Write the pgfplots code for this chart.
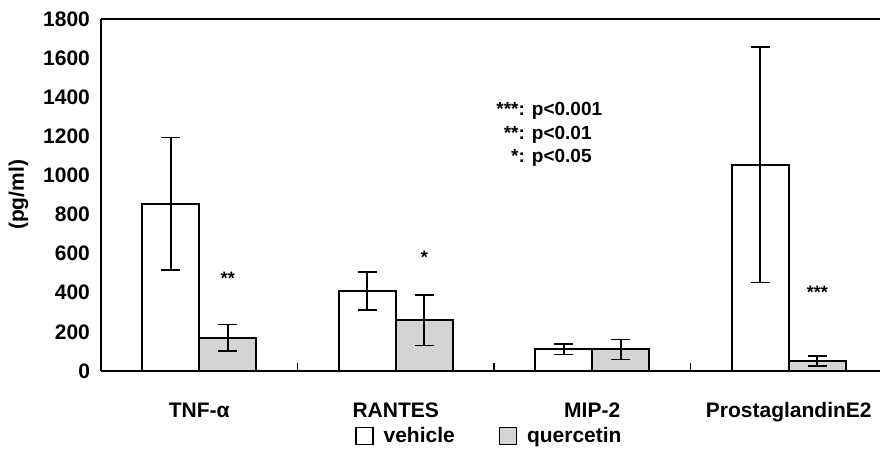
\documentclass[border=0pt]{standalone}
\usepackage{pgfplots}
\pgfplotsset{compat=1.18}
\usepackage{fontspec}
\setmainfont{Liberation Sans}
\definecolor{qgray}{RGB}{211,212,214}
\begin{document}
\begin{tikzpicture}
\path[use as bounding box] (-50pt,-43.5pt) rectangle (390pt,185.5pt);
\begin{axis}[
  at={(0.5pt,0pt)}, anchor=south west,
  scale only axis, width=393pt, height=176pt,
  ybar=0pt, bar width=28.5pt,
  xmin=-0.5, xmax=3.5, ymin=0, ymax=1800,
  ytick={0,200,...,1800},
  xtick={0,1,2,3},
  xticklabels={TNF-α, RANTES, MIP-2, ProstaglandinE2},
  xtick style={draw=none},
  ytick style={draw=none},
  axis lines*=left,
  axis line style={line width=1.2pt, -},
  /pgf/number format/assume math mode=true,
  /pgf/number format/1000 sep={},
  tick label style={font=\bfseries\fontsize{10.5}{12}\selectfont},
  xticklabel style={yshift=-8pt},
  yticklabel style={xshift=-2pt},
  ylabel={(pg/ml)},
  ylabel style={font=\bfseries\fontsize{10.5}{12}\selectfont, at={(axis description cs:-0.105,0.5)}, anchor=center},
  legend style={at={(axis description cs:0.4955,-0.185)}, anchor=center, draw=none, fill=none,
    font=\bfseries\fontsize{10.5}{12}\selectfont,
    /tikz/every odd column/.append style={column sep=3pt},
    /tikz/every even column/.append style={column sep=20pt}},
  legend columns=2,
  legend image code/.code={\draw[#1,/tikz/line width=0.6pt,draw=black] (0pt,-4pt) rectangle (8.5pt,4.5pt);},
  error bars/y dir=both, error bars/y explicit,
  error bars/error bar style={line width=0.8pt, black},
  error bars/error mark options={rotate=90, mark size=4.75pt, line width=0.8pt, black},
  clip=false,
]
\addplot[draw=black, line width=1pt, fill=white] coordinates {
  (0,855) +- (0,340)
  (1,410) +- (0,97)
  (2,112) +- (0,27)
  (3,1055) +- (0,602)
};
\addplot[draw=black, line width=1pt, fill=qgray] coordinates {
  (0,170) +- (0,68)
  (1,260) +- (0,129)
  (2,110) +- (0,52)
  (3,52) +- (0,26)
};
\legend{vehicle, quercetin}
\draw[line width=1.2pt] (rel axis cs:0,1) -- (rel axis cs:1,1);
\draw[line width=0.8pt] (axis cs:0.5,0) -- ++(0pt,4pt);
\draw[line width=0.8pt] (axis cs:1.5,0) -- ++(0pt,4pt);
\draw[line width=0.8pt] (axis cs:2.5,0) -- ++(0pt,4pt);
\node[font=\bfseries\fontsize{9}{10}\selectfont] at (axis cs:0.146,475) {**};
\node[font=\bfseries\fontsize{9}{10}\selectfont] at (axis cs:1.146,583) {*};
\node[font=\bfseries\fontsize{9}{10}\selectfont] at (axis cs:3.146,404) {***};
\node[anchor=north west, inner sep=0pt, font=\bfseries\fontsize{9.5}{11.75}\selectfont] at (axis cs:1.51,1391) {%
  \setlength{\tabcolsep}{0pt}\begin{tabular}{r@{}l}
  ***&: p<0.001\\\relax
  **&: p<0.01\\\relax
  *&: p<0.05
  \end{tabular}};
\end{axis}
\end{tikzpicture}
\end{document}
